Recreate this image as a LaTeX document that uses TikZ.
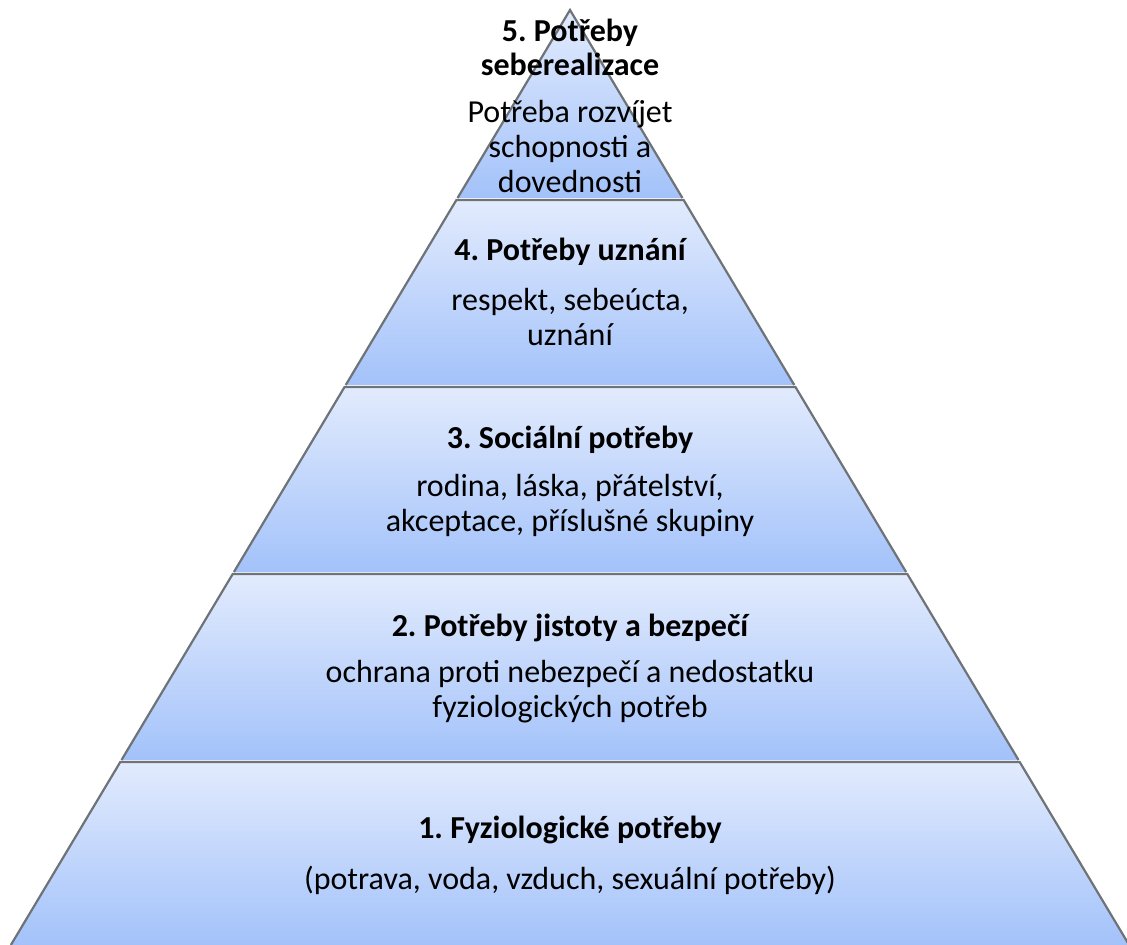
\documentclass[tikz,border=0pt]{standalone}
\usepackage{fontspec}
\setmainfont{Carlito}
\frenchspacing
\usetikzlibrary{positioning}
\definecolor{lvltop}{HTML}{E2EBFD}
\definecolor{lvlbot}{HTML}{A3C2FA}
\definecolor{lvledge}{HTML}{6E7378}
\tikzset{%
   % one slice of the pyramid: light at the top, darker at the bottom
   lvl/.style={
      top color=lvltop,
      bottom color=lvlbot
   },
   lvlline/.style={
      draw=lvledge,
      line width=1.1pt,
      line join=miter
   },
   title/.style={
      align=center,
      inner sep=0pt,
      font=\fontsize{16}{17}\selectfont\bfseries
   },
   body/.style={
      align=center,
      inner sep=0pt,
      font=\fontsize{16}{17.5}\selectfont
   },
}
\begin{document}
\begin{tikzpicture}[x=0.5pt, y=-0.5pt]
    \useasboundingbox (0,0) rectangle (1127,945);
    % slices, top to bottom; sides follow the same slope from the apex
    \foreach \t/\b in {10/198, 200/385, 387/572, 574/760, 762/945}{
        \pgfmathsetmacro\wt{0.598*(\t-10)}
        \pgfmathsetmacro\wb{0.598*(\b-10)}
        \shade[lvl] (570-\wt,\t) -- (570+\wt,\t) -- (570+\wb,\b) -- (570-\wb,\b) -- cycle;
        \draw[lvlline] (570-\wb,\b) -- (570-\wt,\t) -- (570+\wt,\t) -- (570+\wb,\b);
    }
    \node[title] (t5) at (570,47) {5. Potřeby\\seberealizace};
    \node[body] (b5) at (570,147) {Potřeba rozvíjet\\schopnosti a\\dovednosti};
    \node[title] (t4) at (570,252) {4. Potřeby uznání};
    \node[body] (b4) at (570,317) {respekt, sebeúcta,\\uznání};
    \node[title] (t3) at (570,440) {3. Sociální potřeby};
    \node[body] (b3) at (570,505) {rodina, láska, přátelství,\\akceptace, příslušné skupiny};
    \node[title] (t2) at (570,628) {2. Potřeby jistoty a bezpečí};
    \node[body] (b2) at (570,692) {ochrana proti nebezpečí a nedostatku\\fyziologických potřeb};
    \node[title] (t1) at (570,830) {1. Fyziologické potřeby};
    \node[body] (b1) at (570,880) {(potrava, voda, vzduch, sexuální potřeby)};
\end{tikzpicture}
\end{document}
